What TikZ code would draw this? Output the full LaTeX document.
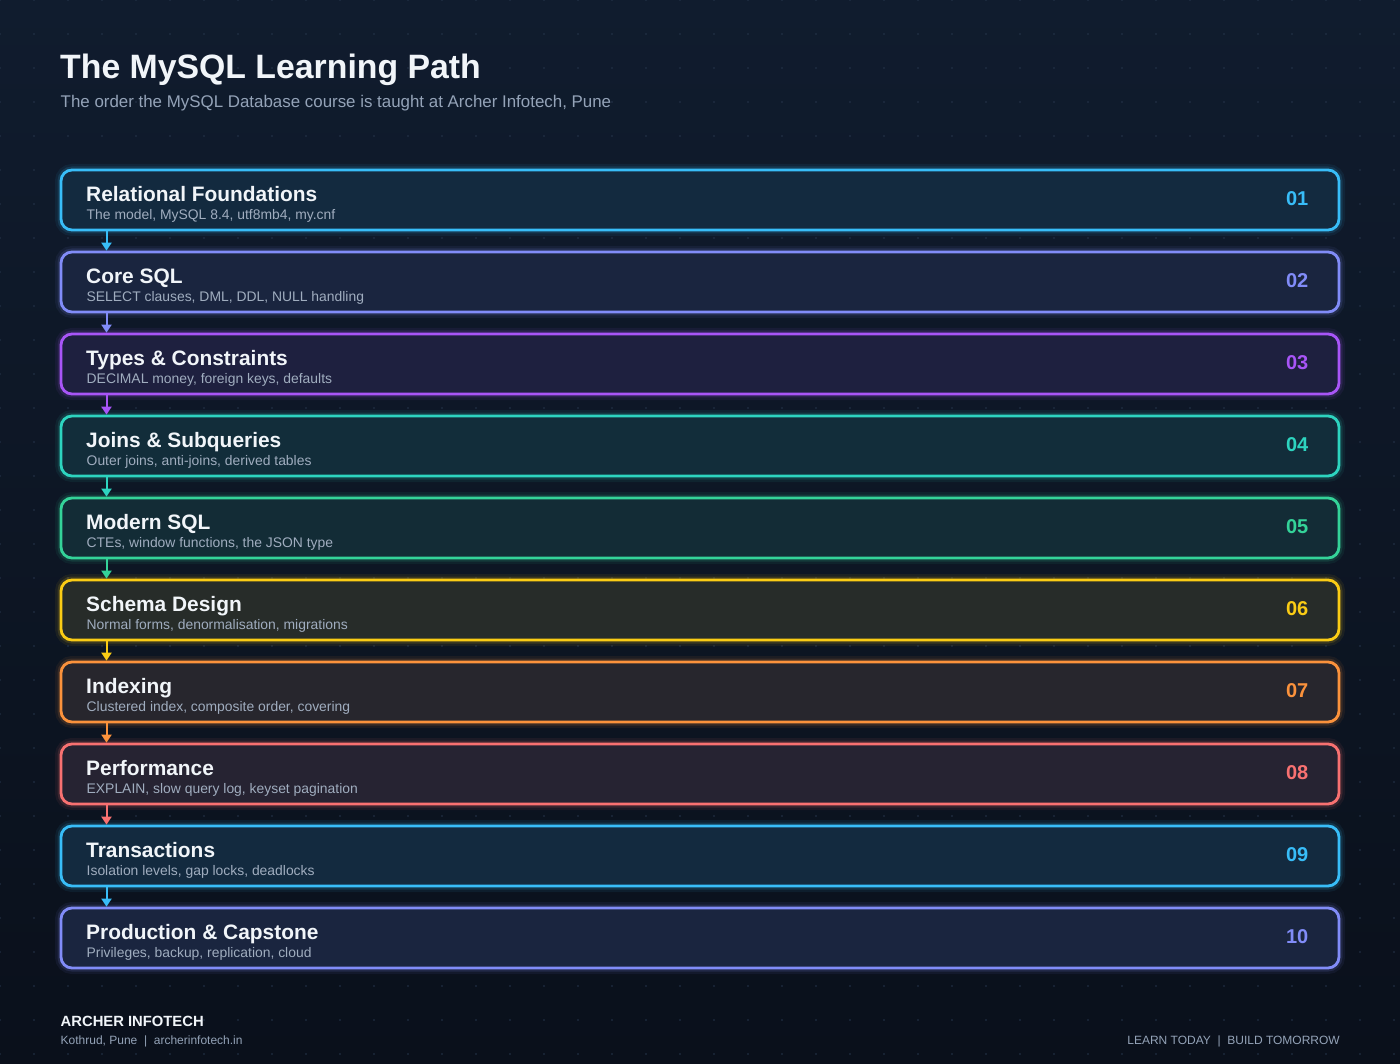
\documentclass[tikz,border=0pt]{standalone}
\usepackage{fontspec}
\setmainfont{Liberation Sans}
\usetikzlibrary{arrows.meta,calc}
\definecolor{bgtop}{HTML}{101C2E}
\definecolor{bgbot}{HTML}{0A101B}
\definecolor{boxbg}{HTML}{0F1A2B}
\definecolor{dotc}{HTML}{26354B}
\definecolor{titlec}{HTML}{F1F5F9}
\definecolor{subc}{HTML}{94A3B8}
\definecolor{boxsub}{HTML}{A0ADBF}
\definecolor{c1}{HTML}{38BDF8}
\definecolor{c2}{HTML}{818CF8}
\definecolor{c3}{HTML}{A855F7}
\definecolor{c4}{HTML}{2DD4BF}
\definecolor{c5}{HTML}{34D399}
\definecolor{c6}{HTML}{FACC15}
\definecolor{c7}{HTML}{FB923C}
\definecolor{c8}{HTML}{F87171}
\definecolor{c9}{HTML}{38BDF8}
\definecolor{c10}{HTML}{818CF8}
\tikzset{
  stepbox/.style={draw=#1, fill=#1!10!boxbg, line width=2.8pt, rounded corners=11pt,
    minimum width=1278pt, minimum height=60pt, inner sep=0pt, outer sep=0pt, anchor=north west,
    preaction={draw=#1, line width=12pt, draw opacity=0.07},
    preaction={draw=#1, line width=7pt, draw opacity=0.14}},
  boxtitle/.style={anchor=base west, inner sep=0pt, text=titlec, font=\bfseries\fontsize{20.9}{24}\selectfont},
  boxsubtitle/.style={anchor=base west, inner sep=0pt, text=boxsub, font=\fontsize{13.9}{16}\selectfont},
  boxnum/.style={anchor=base east, inner sep=0pt, text=#1, font=\bfseries\fontsize{20}{24}\selectfont},
  flow/.style={draw=#1, line width=2pt, -{Triangle[length=8pt,width=10pt]}},
}
\begin{document}
\begin{tikzpicture}[x=1pt,y=-1pt]
\useasboundingbox (0,0) rectangle (1400,1064);
\shade[top color=bgtop, bottom color=bgbot] (0,0) rectangle (1400,1064);
\foreach \x in {0,34,...,1400}{\foreach \y in {0,34,...,1064}{\fill[dotc] (\x,\y) circle (0.85);}}
% header
\node[anchor=base west, inner sep=0pt, text=titlec, font=\bfseries\fontsize{33.8}{40}\selectfont] (title) at (60,79) {The MySQL Learning Path};
\node[anchor=base west, inner sep=0pt, text=subc, font=\fontsize{16.9}{20}\selectfont] (subtitle) at (60.5,107.5) {The order the MySQL Database course is taught at Archer Infotech, Pune};
% boxes
\foreach \i/\t/\s in {
  1/Relational Foundations/{The model, MySQL 8.4, utf8mb4, my.cnf},
  2/Core SQL/{SELECT clauses, DML, DDL, NULL handling},
  3/Types \& Constraints/{DECIMAL money, foreign keys, defaults},
  4/Joins \& Subqueries/{Outer joins, anti-joins, derived tables},
  5/Modern SQL/{CTEs, window functions, the JSON type},
  6/Schema Design/{Normal forms, denormalisation, migrations},
  7/Indexing/{Clustered index, composite order, covering},
  8/Performance/{EXPLAIN, slow query log, keyset pagination},
  9/Transactions/{Isolation levels, gap locks, deadlocks},
  10/Production \& Capstone/{Privileges, backup, replication, cloud}}{
  \pgfmathsetmacro\yt{170+82*(\i-1)}
  \node[stepbox=c\i] (b\i) at (61,\yt) {};
  \node[boxtitle] (t\i) at ($(b\i.north west)+(25,31.5)$) {\t};
  \node[boxsubtitle] (s\i) at ($(b\i.north west)+(25.5,49.8)$) {\s};
  \node[boxnum=c\i] (n\i) at ($(b\i.north east)+(-30.5,35.5)$) {\ifnum\i<10 0\fi\i};
}
% connectors
\foreach \i in {1,...,9}{
  \pgfmathtruncatemacro\j{\i+1}
  \draw[flow=c\i] ($(b\i.south west)+(45.5,1.4)$) -- ($(b\j.north west)+(45.5,-1.4)$);
}
% footer
\node[anchor=base west, inner sep=0pt, text=titlec, font=\bfseries\fontsize{14.8}{18}\selectfont] (brand) at (60.5,1026) {ARCHER INFOTECH};
\node[anchor=base west, inner sep=0pt, text=subc, font=\fontsize{12}{14}\selectfont] (place) at (60.5,1044) {Kothrud, Pune \ | \ archerinfotech.in};
\node[anchor=base east, inner sep=0pt, text=subc, font=\fontsize{12}{14}\selectfont] (motto) at (1340,1044) {LEARN TODAY \ | \ BUILD TOMORROW};
\end{tikzpicture}
\end{document}
